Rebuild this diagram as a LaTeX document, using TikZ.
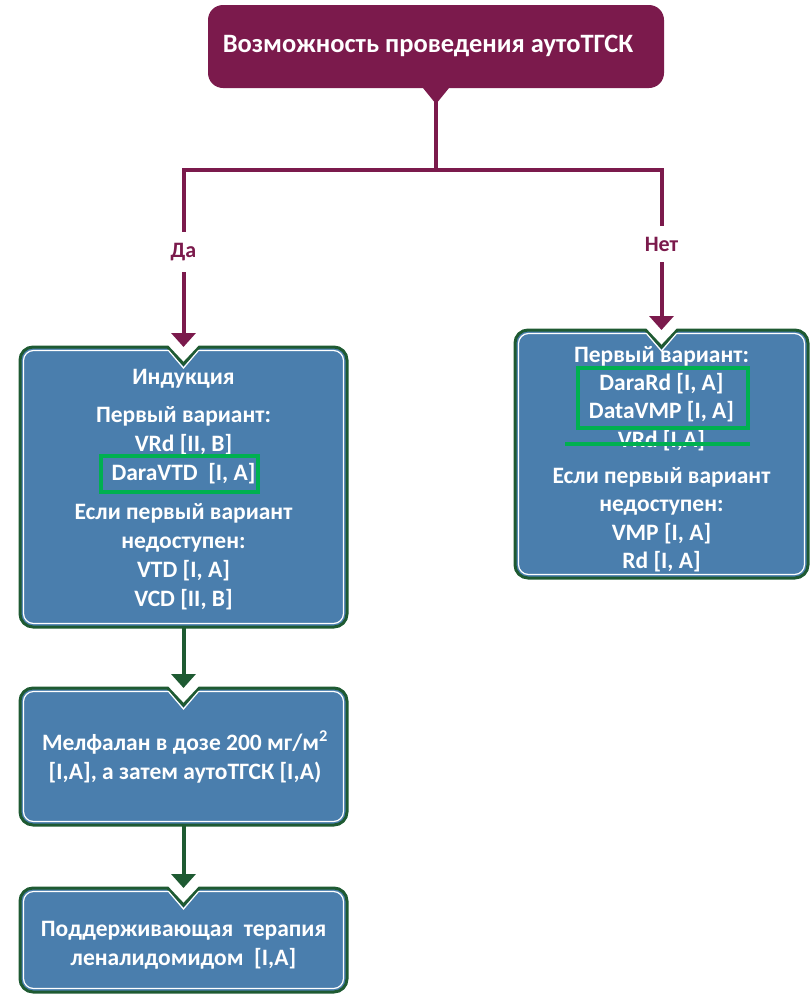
\documentclass[tikz,border=0pt]{standalone}
\usepackage{fontspec}
\setmainfont{Carlito}
\usetikzlibrary{arrows.meta}

\definecolor{plum}{HTML}{7B1A4C}
\definecolor{steel}{HTML}{4A7EAD}
\definecolor{edge}{HTML}{1E5A32}
\definecolor{mark}{HTML}{00B050}

\tikzset{
  boxtext/.style={text=white, font=\bfseries\fontsize{23.5}{29}\selectfont, align=center},
  branch/.style={text=plum, font=\bfseries\fontsize{22}{24}\selectfont, inner ysep=11},
  plumline/.style={draw=plum, line width=4},
  plumarrow/.style={plumline, -{Triangle[length=14,width=24]}},
  greenarrow/.style={draw=edge, line width=4, -{Triangle[length=14,width=24]}},
  hilite/.style={draw=mark, line width=3.5},
}

% box with a notch at the top centre: name, left, top, right, bottom
\newcommand{\flowbox}[5]{%
  \pgfmathsetmacro{\bxm}{(#2+#4)/2}
  \coordinate (#1-top) at (\bxm,#3);
  \coordinate (#1-bottom) at (\bxm,#5);
  \path[fill=steel, draw=edge, line width=3]
    (\bxm,#3+17) -- (\bxm+16,#3) [rounded corners=13] -- (#4,#3) -- (#4,#5)
    -- (#2,#5) -- (#2,#3) [sharp corners] -- (\bxm-16,#3) -- cycle;
  \draw[white, line width=1.2]
    (\bxm,#3+21) -- (\bxm+15,#3+3.5) [rounded corners=10] -- (#4-3.5,#3+3.5)
    -- (#4-3.5,#5-3.5) -- (#2+3.5,#5-3.5) -- (#2+3.5,#3+3.5) [sharp corners]
    -- (\bxm-15,#3+3.5) -- cycle;
}

\begin{document}
\begin{tikzpicture}[x=1pt,y=-1pt]
\useasboundingbox (0,0) rectangle (811,994);

% question
\path[fill=plum, rounded corners=15] (208,5) -- (664,5) -- (664,88)
  [sharp corners] -- (449,88) -- (436,104) -- (423,88) [rounded corners=15] -- (208,88) -- cycle;
\coordinate (ask-tail) at (436,102);
\node[text=white, font=\bfseries\fontsize{26.5}{30}\selectfont] (ask) at (428,46) {Возможность проведения аутоТГСК};

% boxes
\flowbox{induct}{20}{347}{347}{627}
\flowbox{noasct}{515}{330}{808}{578}
\flowbox{melph}{20}{688}{347}{825}
\flowbox{maint}{20}{888}{347}{992}

\node[boxtext] (inductext) at (183.5,490) {Индукция\\[9pt]
  Первый вариант:\\
  VRd [II, B]\\
  DaraVTD\ \ [I, A]\\[10pt]
  Если первый вариант\\
  недоступен:\\
  VTD [I, A]\\
  VCD [II, B]};
\node[boxtext, font=\bfseries\fontsize{23.5}{28.3}\selectfont] (noasctext) at (661.5,459) {Первый вариант:\\
  DaraRd [I, A]\\
  DataVMP [I, A]\\
  VRd [I,A]\\[8pt]
  Если первый вариант\\
  недоступен:\\
  VMP [I, A]\\
  Rd [I, A]};
\node[boxtext] (melphtext) at (185,757) {Мелфалан\ в дозе 200 мг/м\textsuperscript{2}\\
  {[I,A], а затем аутоТГСК [I,A)}};
\node[boxtext] (mainttext) at (183.5,945) {Поддерживающая\ \ терапия\\
  леналидомидом\ \ {[I,A]}};

% highlights
\draw[hilite] (101,456) rectangle (258,492);
\draw[hilite] (578,368) rectangle (748,428);
\draw[hilite] (565,444) -- (750,444);

% branches
\coordinate (split) at (436,170);
\node[branch] (yes) at (183.5,252) {Да};
\node[branch] (no) at (661.5,244) {Нет};
\draw[plumline] (ask-tail) -- (split);
\draw[plumline] (yes.north) |- (split) -| (no.north);
\draw[plumarrow] (yes.south) -- (induct-top);
\draw[plumarrow] (no.south) -- (noasct-top);

% steps
\draw[greenarrow] (induct-bottom) -- (melph-top);
\draw[greenarrow] (melph-bottom) -- (maint-top);
\end{tikzpicture}
\end{document}
